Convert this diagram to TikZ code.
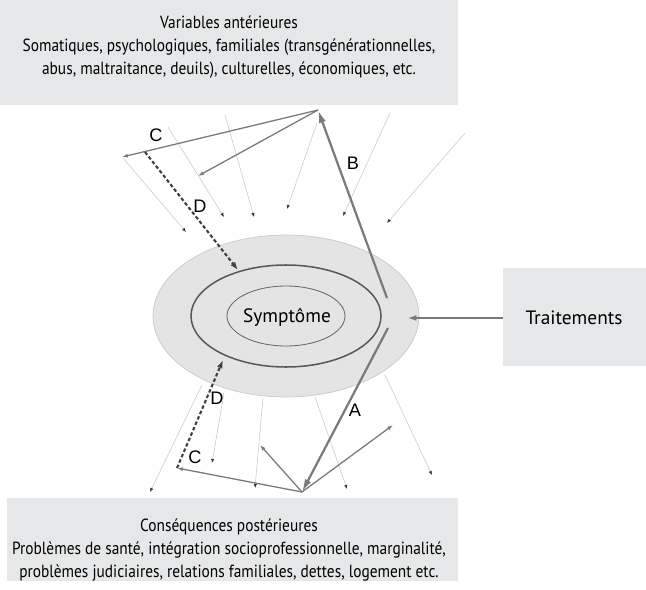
\documentclass[tikz,border=0pt]{standalone}
\usepackage{fontspec}
\setmainfont{PT Sans}
\newfontfamily\boxfont{PT Sans}[FakeStretch=0.875]
\newfontfamily\lettrefont{Liberation Sans}
\usetikzlibrary{arrows.meta}

\definecolor{boxgray}{HTML}{E6E7E8}
\definecolor{ellfill}{HTML}{E4E4E4}
\definecolor{ellline}{HTML}{C9C9C9}
\definecolor{arrgray}{HTML}{7A7A7A}
\definecolor{thingray}{HTML}{CACACA}
\definecolor{dashdark}{HTML}{404040}

\newcommand{\pxu}{0.03cm}

\tikzset{
	bigarrow/.style={draw=arrgray, line width=1.9pt, -{Latex[length=11pt,width=6pt]}},
	midarrow/.style={draw=arrgray, line width=1.1pt, -{Latex[length=5pt,width=3.5pt]}},
	dasharrow/.style={draw=dashdark, line width=1.8pt, densely dashed, -{Latex[length=7pt,width=5pt]}},
	thinarrow/.style={draw=thingray, line width=0.5pt, -{Latex[length=3.5pt,width=2.8pt,color=black!80]}},
	boxtext/.style={align=center, font=\boxfont\fontsize{15}{19.5}\selectfont, inner sep=0pt},
	bigtext/.style={font=\fontsize{16.5}{18}\selectfont, inner sep=0pt},
	lettre/.style={font=\lettrefont\fontsize{15.5}{17}\selectfont, inner sep=1pt}
}

\begin{document}
\begin{tikzpicture}[x=\pxu, y=-\pxu]
\useasboundingbox (0,0) rectangle (646,589);

% grey boxes
\fill[boxgray] (0,0) rectangle (458,105);
\fill[boxgray] (7,498) rectangle (458,581);
\fill[boxgray] (503,268) rectangle (646,366);

\node[boxtext] (ante) at (229,47)
	{Variables antérieures\\
	 Somatiques, psychologiques, familiales (transgénérationnelles,\\
	 abus, maltraitance, deuils), culturelles, économiques, etc.};
\node[boxtext] (post) at (229,550)
	{Conséquences postérieures\\
	 Problèmes de santé, intégration socioprofessionnelle, marginalité,\\
	 problèmes judiciaires, relations familiales, dettes, logement etc.};
\node[bigtext] (trait) at (574,318) {Traitements};

% the nested ellipses
\coordinate (ctr) at (286,316);
\draw[fill=ellfill, draw=ellline, line width=0.6pt] (ctr) ellipse [x radius=133*\pxu, y radius=81*\pxu];
\draw[draw=black!65, line width=1.3pt] (ctr) ellipse [x radius=95*\pxu, y radius=51*\pxu];
\draw[draw=black!60, line width=0.7pt] (ctr) ellipse [x radius=59*\pxu, y radius=30*\pxu];
\node[bigtext] (sympt) at (287,317) {Symptôme};

% end points
\coordinate (hautsom) at (318,110);
\coordinate (bassom) at (302,492);
\coordinate (cgauche) at (122,157);
\coordinate (cmilieu) at (198,176);
\coordinate (ddepart) at (145,152);
\coordinate (darrivee) at (238,270);
\coordinate (bdepart) at (387,298);
\coordinate (adepart) at (388,328);
\coordinate (traitbord) at (503,318);
\coordinate (traitpt) at (407,318);
\coordinate (cbas) at (177,468);
\coordinate (dbas) at (223,360);
\coordinate (retour1) at (260,445);
\coordinate (retour2) at (393,425);

%thin arrows
\foreach \n/\sx/\sy/\ex/\ey in {1/123/158/186/232, 2/168/127/224/217, 3/225/115/254/217,
	4/317/123/287/209, 5/390/113/343/216, 6/465/133/387/223,
	7/202/385/150/492, 8/224/393/212/463, 9/263/398/255/488,
	10/315/397/347/489, 11/385/375/432/475}{
	\coordinate (fd\n) at (\sx,\sy);
	\coordinate (ff\n) at (\ex,\ey);
	\draw[thinarrow] (fd\n) -- (ff\n);
}

%C arrows
\draw[midarrow] (hautsom) -- (cgauche);
\draw[midarrow] (hautsom) -- (cmilieu);
\draw[midarrow] (bassom) -- (cbas);
\draw[midarrow] (bassom) -- (retour1);
\draw[midarrow] (bassom) -- (retour2);

%D arrows
\draw[dasharrow] (ddepart) -- (darrivee);
\draw[dasharrow] (cbas) -- (dbas);

%A, B and treatment
\draw[bigarrow] (bdepart) -- (hautsom);
\draw[bigarrow] (adepart) -- (bassom);
\draw[bigarrow, line width=1.6pt, -{Latex[length=8pt,width=5pt]}] (traitbord) -- (traitpt);

%labels
\node[lettre] (lb) at (353,163) {B};
\node[lettre] (la) at (355,410) {A};
\node[lettre] (lc1) at (156,135) {C};
\node[lettre] (ld1) at (200,206) {D};
\node[lettre] (ld2) at (217,398) {D};
\node[lettre] (lc2) at (195,457) {C};
\end{tikzpicture}
\end{document}
